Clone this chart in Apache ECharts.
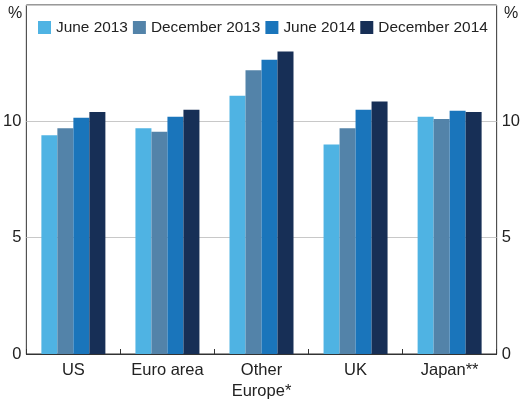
<!DOCTYPE html>
<html><head><meta charset="utf-8">
<script src="https://cdn.jsdelivr.net/npm/echarts@6/dist/echarts.min.js"></script>
<style>html,body{margin:0;padding:0;background:#fff}#c{width:523px;height:402px}</style>
</head><body><div id="c"></div>
<script>
const categories = ['US', 'Euro area', 'Other\nEurope*', 'UK', 'Japan**'];
const seriesNames = ['June 2013', 'December 2013', 'June 2014', 'December 2014'];
const june2013 = [9.4, 9.7, 11.1, 9.0, 10.2];
const dec2013 = [9.7, 9.55, 12.2, 9.7, 10.1];
const june2014 = [10.15, 10.2, 12.65, 10.5, 10.45];
const dec2014 = [10.4, 10.5, 13.0, 10.85, 10.4];
const yTicks = [0, 5, 10, 15];
const colors = ['#4FB3E3', '#5383A9', '#1A75BB', '#172F56'];

const values = [june2013, dec2013, june2014, dec2014];
const chart = echarts.init(document.getElementById('c'), null, {renderer: 'canvas'});
const font = "'Liberation Sans', Arial, sans-serif";
const yAxisCommon = {
  type: 'value', min: yTicks[0], max: yTicks[yTicks.length - 1], interval: 5,
  axisLine: {show: false}, axisTick: {show: false},
  splitLine: {show: true, lineStyle: {color: '#c8c8c8', width: 1}},
  axisLabel: {fontFamily: font, fontSize: 16.5, color: '#222', margin: 5,
    formatter: v => v === 15 ? '' : String(v)}
};
chart.setOption({
  animation: false,
  color: colors,
  grid: {left: 26, right: 22, top: 5, bottom: 47, show: true, borderColor: '#333', borderWidth: 1, backgroundColor: 'transparent'},
  legend: {
    left: 38, top: 20, padding: 0, itemWidth: 13, itemHeight: 13, itemGap: 5,
    icon: 'rect',
    textStyle: {fontFamily: font, fontSize: 15.4, color: '#222'},
    data: seriesNames
  },
  xAxis: {
    type: 'category', data: categories,
    axisLine: {show: true, lineStyle: {color: '#333', width: 1}},
    axisTick: {show: true, inside: true, length: 5, lineStyle: {color: '#333'}},
    axisLabel: {fontFamily: font, fontSize: 16.5, color: '#222', margin: 6, lineHeight: 21, interval: 0}
  },
  yAxis: [
    Object.assign({position: 'left'}, yAxisCommon),
    Object.assign({position: 'right'}, yAxisCommon, {splitLine: {show: false}})
  ],
  graphic: [
    {type: 'text', left: 8, top: 6, style: {text: '%', fontFamily: font, fontSize: 16, fill: '#222'}},
    {type: 'text', left: 504, top: 6, style: {text: '%', fontFamily: font, fontSize: 16, fill: '#222'}}
  ],
  series: seriesNames.map((n, i) => ({
    name: n, type: 'bar', data: values[i], barWidth: 16, barGap: '0%',
    itemStyle: {color: colors[i]}
  }))
});
</script></body></html>
